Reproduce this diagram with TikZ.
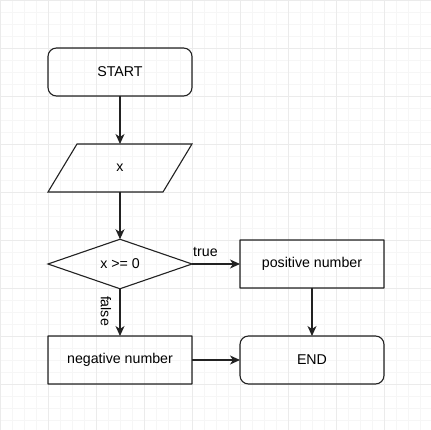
\documentclass[tikz,border=0pt]{standalone}
\usepackage{fontspec}
\setmainfont{Liberation Sans}
\usetikzlibrary{shapes.geometric,arrows.meta}
\definecolor{gridminor}{HTML}{F6F6F6}
\definecolor{gridmajor}{HTML}{EBEBEB}
\definecolor{strokec}{HTML}{222222}
\tikzset{
  base/.style={draw=strokec, line width=1.1pt, inner sep=0pt, outer sep=0pt,
    font=\fontsize{14.2}{17}\selectfont, text=black},
  terminal/.style={base, rectangle, rounded corners=8.5pt, minimum width=144pt, minimum height=48pt},
  process/.style={base, rectangle, rounded corners=0.05pt, minimum width=144pt, minimum height=48pt},
  iobox/.style={base, draw=none, rectangle, minimum width=144pt, minimum height=48pt},
  decision/.style={base, diamond, minimum width=144pt, minimum height=48pt},
  conn/.style={draw=strokec, line width=1.1pt, -{Stealth[length=10pt, width=9pt, inset=3pt]}},
  lbl/.style={font=\fontsize{14.2}{17}\selectfont, text=black, inner sep=0pt}
}
\begin{document}
\begin{tikzpicture}[x=1pt,y=-1pt]
\useasboundingbox (0,0) rectangle (431,430);
\fill[white] (0,0) rectangle (431,430);
\foreach \k in {0,12,...,430} {
  \draw[gridminor, line width=0.8pt] (\k,0) -- (\k,430);
  \draw[gridminor, line width=0.8pt] (0,\k) -- (431,\k);
}
\foreach \k in {0,48,...,430} {
  \draw[gridmajor, line width=0.8pt] (\k,0) -- (\k,430);
  \draw[gridmajor, line width=0.8pt] (0,\k) -- (431,\k);
}
\node[terminal] (start) at (120,72) {START};
\node[iobox] (input) at (120,168) {x};
\draw[draw=strokec, line width=1.1pt, line join=miter]
  ([xshift=29pt]input.north west) -- (input.north east)
  -- ([xshift=-29pt]input.south east) -- (input.south west) -- cycle;
\node[decision] (dec) at (120,264) {x >= 0};
\node[process] (pos) at (312,264) {positive number};
\node[process] (neg) at (120,360) {negative number};
\node[terminal] (end) at (312,360) {END};
\draw[conn] (start.south) -- (input.north);
\draw[conn] (input.south) -- (dec.north);
\draw[conn] (dec.east) -- (pos.west);
\draw[conn] (dec.south) -- (neg.north);
\draw[conn] (neg.east) -- (end.west);
\draw[conn] (pos.south) -- (end.north);
\node[lbl, anchor=base west] (ltrue) at (193,257) {true};
\node[lbl, rotate=-90] (lfalse) at (106,311) {false};
\end{tikzpicture}
\end{document}
